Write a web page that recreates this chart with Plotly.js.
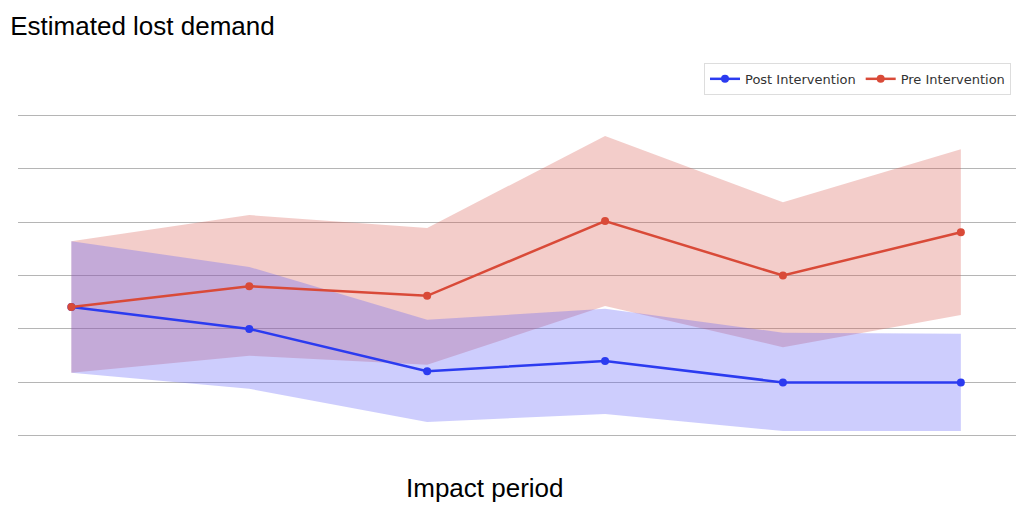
<!DOCTYPE html>
<html><head><meta charset="utf-8">
<script src="https://cdn.plot.ly/plotly-3.0.1.min.js"></script>
<style>body{margin:0;background:#fff}</style></head>
<body><div id="chart" style="width:1024px;height:515px"></div>
<script>
const periods = [0, 1, 2, 3, 4, 5];
const postValues = [2.41, 2.0, 1.21, 1.40, 1.0, 1.0];
const postLower  = [1.18, 0.88, 0.26, 0.41, 0.09, 0.09];
const postUpper  = [3.64, 3.16, 2.17, 2.38, 1.93, 1.91];
const preValues  = [2.41, 2.80, 2.62, 4.02, 3.0, 3.81];
const preLower   = [1.18, 1.50, 1.33, 2.43, 1.66, 2.26];
const preUpper   = [3.64, 4.13, 3.89, 5.61, 4.37, 5.36];

const blue = '#2b3bf0', red = '#d94a38';
const traces = [
  {x: periods, y: preLower, mode: 'lines', line: {width: 0}, showlegend: false, hoverinfo: 'skip'},
  {x: periods, y: preUpper, mode: 'lines', line: {width: 0}, fill: 'tonexty', fillcolor: 'rgba(215,90,80,0.30)', showlegend: false, hoverinfo: 'skip'},
  {x: periods, y: postLower, mode: 'lines', line: {width: 0}, showlegend: false, hoverinfo: 'skip'},
  {x: periods, y: postUpper, mode: 'lines', line: {width: 0}, fill: 'tonexty', fillcolor: 'rgba(90,90,250,0.30)', showlegend: false, hoverinfo: 'skip'},
  {x: periods, y: postValues, mode: 'lines+markers', name: 'Post Intervention', line: {color: blue, width: 2.5}, marker: {color: blue, size: 8}},
  {x: periods, y: preValues, mode: 'lines+markers', name: 'Pre Intervention', line: {color: red, width: 2.5}, marker: {color: red, size: 8}}
];
const layout = {
  width: 1024, height: 515,
  margin: {l: 18, r: 8, t: 113, b: 77},
  paper_bgcolor: '#fff', plot_bgcolor: '#fff',
  font: {family: 'Liberation Sans, Arial, sans-serif', color: '#000'},
  title: {text: 'Estimated lost demand', x: 0.01, xanchor: 'left', y: 0.95, yanchor: 'middle', font: {size: 26}},
  xaxis: {range: [-0.3, 5.31], showticklabels: false, showgrid: false, zeroline: false, showline: false, ticks: ''},
  yaxis: {range: [-0.04, 6.04], dtick: 1, tick0: 0, showticklabels: false, showgrid: true, gridcolor: '#b5b5b5', gridwidth: 1, zeroline: false, showline: false, ticks: ''},
  annotations: [{text: 'Impact period', xref: 'paper', yref: 'paper', x: 0.468, y: -0.155, xanchor: 'center', yanchor: 'middle', showarrow: false, font: {size: 26}}],
  legend: {orientation: 'h', traceorder: 'normal', x: 0.995, xanchor: 'right', y: 1.105, yanchor: 'middle', bordercolor: '#ddd', borderwidth: 1,
           font: {family: 'DejaVu Sans, sans-serif', size: 13, color: '#333'}},
  showlegend: true
};
Plotly.newPlot('chart', traces, layout, {displayModeBar: false, staticPlot: true});
</script></body></html>
